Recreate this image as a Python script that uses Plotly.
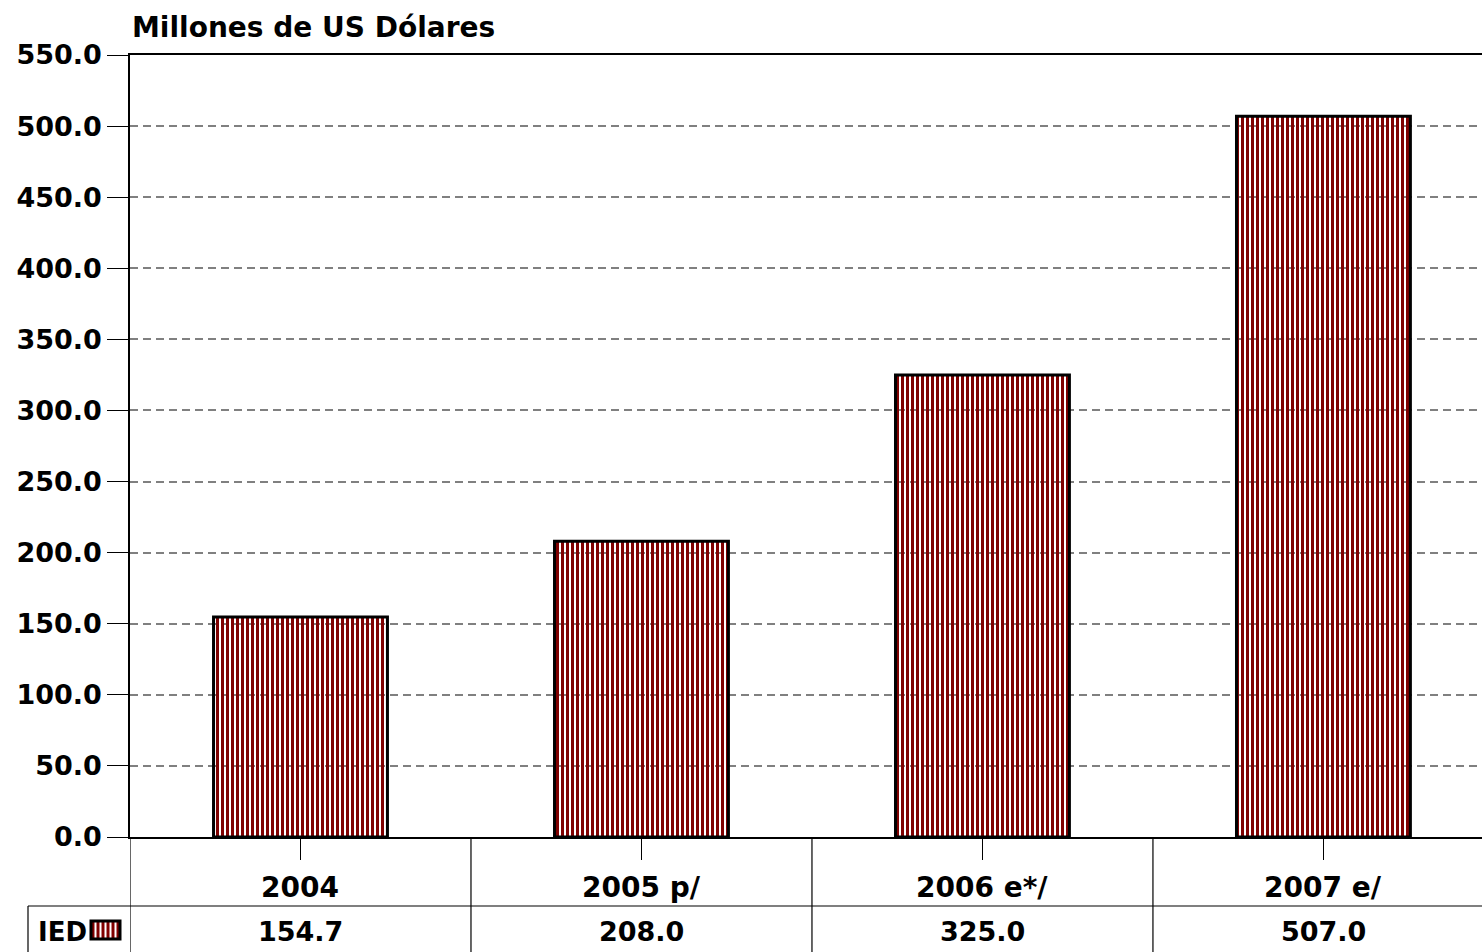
import plotly.graph_objects as go

categories = ["2004", "2005 p/", "2006 e*/", "2007 e/"]
ied_values = [154.7, 208.0, 325.0, 507.0]
series_name = "IED"
y_title = "Millones de US Dólares"
y_ticks = [0, 50, 100, 150, 200, 250, 300, 350, 400, 450, 500, 550]

W, H = 1482, 952
L, R, T, B = 130, 0, 55, 115
PW, PH = W - L - R, H - T - B
X_RANGE = [-0.5, 3.465]


def px_x(p):
    return (p - L) / PW


def px_y(p):
    return (H - B - p) / PH


FONT = "DejaVu Sans"
DARK = "#800000"

fig = go.Figure()
fig.add_trace(go.Bar(
    x=categories, y=ied_values, name=series_name, width=0.51,
    marker=dict(color="white",
                line=dict(color="black", width=3),
                pattern=dict(shape="|", fgcolor=DARK, fgopacity=1,
                             size=5, solidity=0.6, fillmode="replace")),
    showlegend=False, hoverinfo="skip",
))

shapes = []
# table vertical dividers
for i in range(len(categories)):
    shapes.append(dict(type="line", xref="x", yref="paper", x0=i - 0.5, x1=i - 0.5,
                       y0=0, y1=px_y(H), line=dict(color="black", width=1.2)))
# table horizontal line
shapes.append(dict(type="line", xref="paper", yref="paper", x0=px_x(28), x1=1,
                   y0=px_y(906), y1=px_y(906), line=dict(color="black", width=1.2)))
# legend cell left border
shapes.append(dict(type="line", xref="paper", yref="paper", x0=px_x(28), x1=px_x(28),
                   y0=px_y(906), y1=px_y(H), line=dict(color="black", width=1.2)))
# legend key
kx0, kx1, ky0, ky1 = 91, 120, 921, 939
shapes.append(dict(type="rect", xref="paper", yref="paper", x0=px_x(kx0), x1=px_x(kx1),
                   y0=px_y(ky1), y1=px_y(ky0), fillcolor=DARK, line=dict(width=0)))
path = ""
xx = kx0 + 4.5
while xx < kx1 - 2:
    path += f"M{px_x(xx)},{px_y(ky0)} L{px_x(xx)},{px_y(ky1)} "
    xx += 5
shapes.append(dict(type="path", xref="paper", yref="paper", path=path,
                   line=dict(color="white", width=2)))
shapes.append(dict(type="rect", xref="paper", yref="paper", x0=px_x(kx0), x1=px_x(kx1),
                   y0=px_y(ky1), y1=px_y(ky0), line=dict(color="black", width=3)))

annotations = [dict(text=f"<b>{y_title}</b>", xref="paper", yref="paper", x=0, y=px_y(27),
                    xanchor="left", yanchor="middle", showarrow=False,
                    font=dict(family=FONT, size=28, color="black"))]
for i, (c, v) in enumerate(zip(categories, ied_values)):
    annotations.append(dict(text=f"<b>{c}</b>", xref="x", yref="paper", x=i, y=px_y(887),
                            xanchor="center", yanchor="middle", showarrow=False,
                            font=dict(family=FONT, size=28, color="black")))
    annotations.append(dict(text=f"<b>{v:.1f}</b>", xref="x", yref="paper", x=i, y=px_y(932),
                            xanchor="center", yanchor="middle", showarrow=False,
                            font=dict(family=FONT, size=27, color="black")))
annotations.append(dict(text=f"<b>{series_name}</b>", xref="paper", yref="paper", x=px_x(36),
                        y=px_y(932), xanchor="left", yanchor="middle", showarrow=False,
                        font=dict(family=FONT, size=26, color="black")))

fig.update_layout(
    width=W, height=H,
    margin=dict(l=L, r=R, t=T, b=B, pad=0),
    plot_bgcolor="white", paper_bgcolor="white",
    shapes=shapes, annotations=annotations,
    xaxis=dict(type="category", range=X_RANGE, showgrid=False, zeroline=False,
               showline=True, linecolor="black", linewidth=1.5, mirror=True,
               ticks="outside", ticklen=21, tickcolor="black", tickwidth=1.2,
               showticklabels=False),
    yaxis=dict(range=[0, 550], tickvals=y_ticks, tickformat=".1f",
               showgrid=True, gridcolor="#808080", gridwidth=1.5, griddash="8px,5px",
               zeroline=False, showline=True, linecolor="black", linewidth=1.5,
               ticks="outside", ticklen=21, tickcolor="black", tickwidth=1.2,
               tickfont=dict(family=FONT, size=27, color="black", weight="bold")),
)

fig.write_html("out.html", config={"displayModeBar": False},
               post_script="document.body.style.margin='0';")
